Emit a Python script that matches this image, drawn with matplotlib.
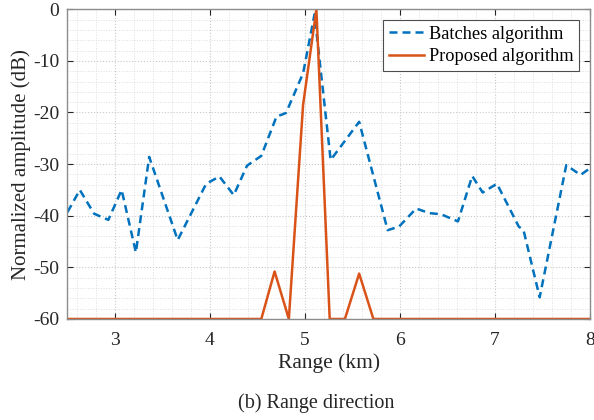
import numpy as np
import matplotlib
matplotlib.use("Agg")
import matplotlib.pyplot as plt
from matplotlib.ticker import MultipleLocator

# ---------------------------
# DATA
# ---------------------------

# Batches algorithm: range (km) vs normalized amplitude (dB)
batch_range = [2.50, 2.63, 2.78, 2.93, 3.07, 3.22, 3.36, 3.66, 3.96, 4.10,
               4.25, 4.39, 4.54, 4.70, 4.80, 4.98, 5.10, 5.27, 5.57, 5.87,
               5.99, 6.17, 6.31, 6.43, 6.61, 6.76, 6.87, 7.02, 7.25, 7.30,
               7.47, 7.75, 7.90, 8.00]
batch_db = [-39.3, -35.0, -39.6, -40.8, -35.0, -47.1, -28.6, -44.7, -33.8, -32.4,
            -36.0, -30.3, -28.4, -20.8, -20.1, -12.4, -1.0, -29.2, -21.8, -42.8,
            -42.1, -38.6, -39.5, -39.7, -41.1, -32.3, -35.5, -33.8, -42.1, -42.8,
            -55.8, -30.2, -32.1, -30.8]

# Proposed algorithm
prop_range = [2.50, 4.54, 4.68, 4.83, 4.98, 5.12, 5.26, 5.42, 5.57, 5.72, 8.00]
prop_db = [-60, -60, -50.8, -60, -18.5, 0, -60, -60, -51.2, -60, -60]

x_ticks = [3, 4, 5, 6, 7, 8]
y_ticks = [0, -10, -20, -30, -40, -50, -60]

BLUE = "#0072BD"
RED = "#D95319"

# ---------------------------
# PLOT
# ---------------------------

plt.rcParams["font.family"] = ["Liberation Serif", "DejaVu Serif"]

fig = plt.figure(figsize=(5.94, 4.2), dpi=100)
ax = fig.add_axes([0.1136, 0.2405, 0.8797, 0.7375])

ax.plot(batch_range, batch_db, color=BLUE, linewidth=1.8,
        linestyle=(0, (3.2, 2.0)), label="Batches algorithm")
ax.plot(prop_range, prop_db, color=RED, linewidth=1.8,
        label="Proposed algorithm")

ax.set_xlim(2.5, 8)
ax.set_ylim(-60, 0)
ax.set_xticks(x_ticks)
ax.set_yticks(y_ticks)
ax.set_yticklabels([str(v) for v in y_ticks])
ax.xaxis.set_minor_locator(MultipleLocator(0.2))
ax.yaxis.set_minor_locator(MultipleLocator(2))

ax.grid(True, which="major", linestyle=":", color="#c8c8c8", linewidth=0.8)
ax.grid(True, which="minor", linestyle=":", color="#dedede", linewidth=0.7)
ax.set_axisbelow(True)

ax.tick_params(which="major", direction="in", length=4, width=0.8,
               top=True, right=True, labelsize=14, colors="#262626")
ax.tick_params(axis="x", which="major", pad=9.5)
ax.tick_params(axis="y", which="major", pad=6)
ax.tick_params(which="minor", length=0, top=True, right=True)
for sp in ax.spines.values():
    sp.set_color("#8c8c8c")
    sp.set_linewidth(1.0)

ax.set_xlabel("Range (km)", fontsize=15.5, color="#262626", labelpad=3)
ax.set_ylabel("Normalized amplitude (dB)", fontsize=15, color="#262626",
              labelpad=1.5)

leg = ax.legend(loc="upper right", fontsize=13.2, frameon=True, fancybox=False,
                framealpha=1, edgecolor="#4d4d4d", borderpad=0.3,
                labelspacing=0.3, handlelength=1.95, handletextpad=0.25,
                borderaxespad=0.6)
leg.get_frame().set_linewidth(0.8)

fig.text(0.532, 0.040, "(b) Range direction", fontsize=14.5,
         ha="center", va="center", color="#262626")

fig.savefig("out.png", dpi=100)
